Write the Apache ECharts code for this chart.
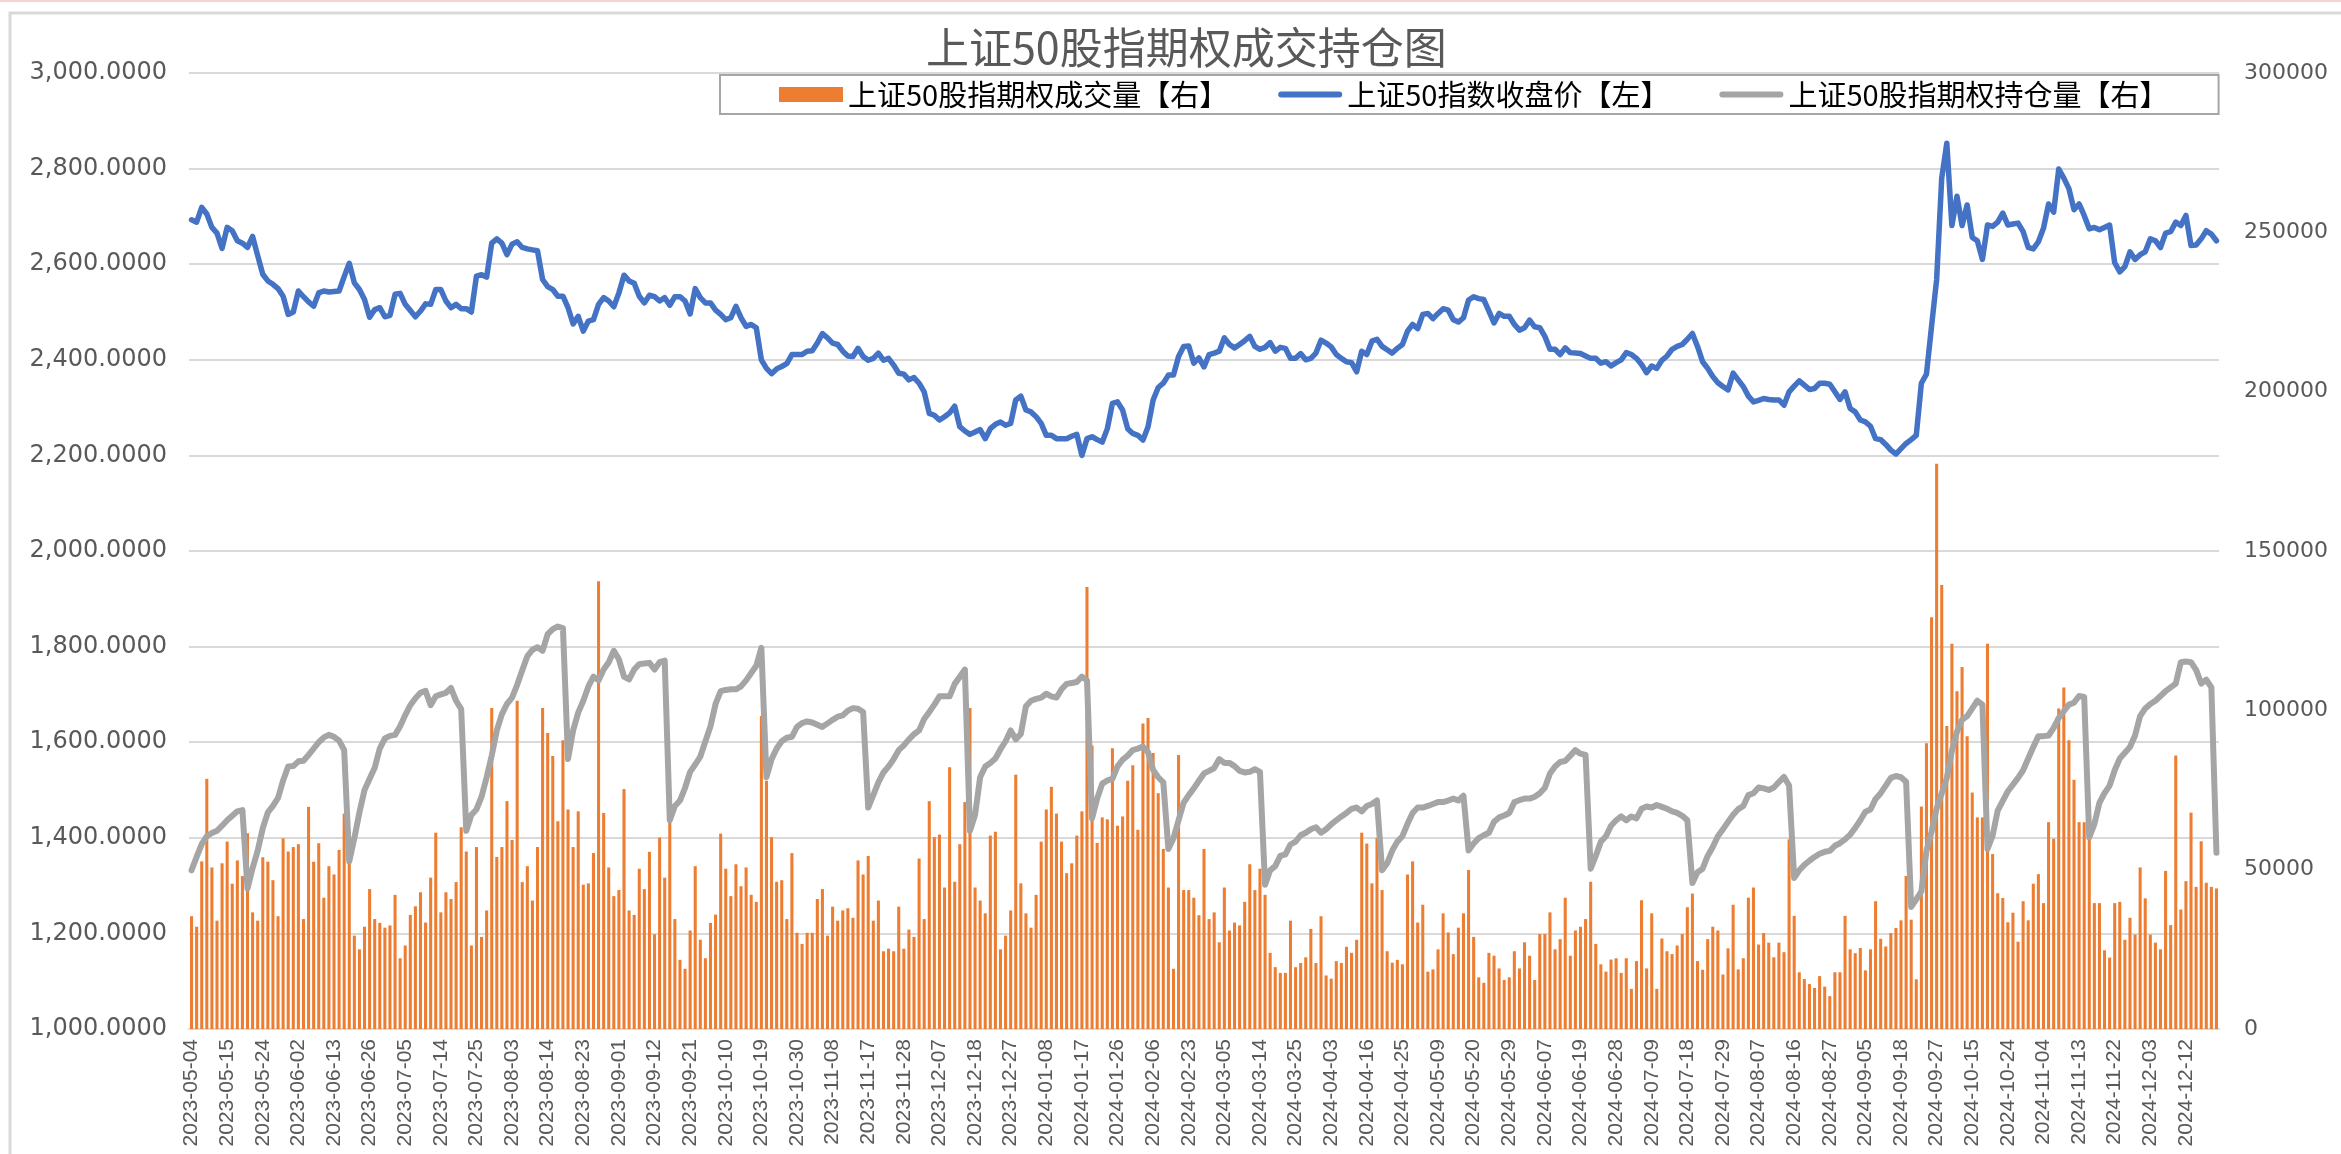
<!DOCTYPE html>
<html>
<head>
<meta charset="utf-8">
<title>上证50股指期权成交持仓图</title>
<script src="https://cdn.jsdelivr.net/npm/echarts@6/dist/echarts.min.js"></script>
<style>
  html, body { margin: 0; padding: 0; background: #fff; }
  #chart { width: 2341px; height: 1154px; }
</style>
</head>
<body>
<div id="chart"></div>
<script>
// 休市日（工作日中不交易的日子）
const holidays = [
  '2023-06-22', '2023-06-23', '2023-09-29', '2023-10-02', '2023-10-03', '2023-10-04', '2023-10-05', '2023-10-06',
  '2024-01-01', '2024-02-09', '2024-02-12', '2024-02-13', '2024-02-14', '2024-02-15', '2024-02-16',
  '2024-04-04', '2024-04-05', '2024-05-01', '2024-05-02', '2024-05-03', '2024-06-10',
  '2024-09-16', '2024-09-17', '2024-10-01', '2024-10-02', '2024-10-03', '2024-10-04', '2024-10-07'
]

// 交易日 2023-05-04 ~ 2024-12-20
function buildDays() {
  const out = []
  const d = new Date(Date.UTC(2023, 4, 4))
  const end = Date.UTC(2024, 11, 20)
  while (d.getTime() <= end) {
    const s = d.toISOString().slice(0, 10)
    const w = d.getUTCDay()
    if (w !== 0 && w !== 6 && !holidays.includes(s)) out.push(s)
    d.setUTCDate(d.getUTCDate() + 1)
  }
  return out
}
const days = buildDays()

// 上证50指数收盘价（左轴）
const closePrice = [
  2693, 2688, 2719, 2705, 2677, 2665, 2633, 2677, 2670, 2649,
  2644, 2635, 2658, 2618, 2579, 2565, 2558, 2549, 2533, 2495,
  2500, 2544, 2532, 2521, 2512, 2540, 2544, 2542, 2543, 2544,
  2574, 2602, 2561, 2547, 2526, 2489, 2505, 2509, 2490, 2493,
  2537, 2539, 2516, 2503, 2490, 2502, 2517, 2516, 2547, 2547,
  2523, 2509, 2516, 2507, 2507, 2500, 2575, 2578, 2573, 2644,
  2653, 2644, 2620, 2642, 2647, 2635, 2632, 2630, 2628, 2568,
  2553, 2547, 2533, 2533, 2509, 2475, 2491, 2460, 2481, 2484,
  2516, 2530, 2523, 2511, 2540, 2577, 2565, 2560, 2533, 2519,
  2535, 2532, 2523, 2530, 2514, 2532, 2532, 2523, 2496, 2549,
  2530, 2519, 2519, 2504, 2495, 2484, 2488, 2512, 2488, 2470,
  2474, 2467, 2400, 2382, 2371, 2381, 2386, 2392, 2411, 2411,
  2411, 2418, 2419, 2435, 2455, 2446, 2435, 2432, 2418, 2408,
  2407, 2424, 2407, 2399, 2403, 2414, 2399, 2403, 2389, 2372,
  2370, 2358, 2363, 2351, 2333, 2288, 2284, 2274, 2281, 2289,
  2303, 2260, 2251, 2244, 2249, 2254, 2235, 2256, 2265, 2270,
  2263, 2267, 2316, 2324, 2295, 2291, 2281, 2267, 2242, 2242,
  2235, 2235, 2235, 2240, 2244, 2200, 2235, 2239, 2233, 2228,
  2256, 2309, 2312, 2295, 2256, 2246, 2242, 2232, 2260, 2316,
  2342, 2351, 2368, 2368, 2407, 2428, 2429, 2393, 2404, 2385,
  2411, 2414, 2418, 2446, 2432, 2425, 2432, 2440, 2449, 2428,
  2422, 2426, 2436, 2418, 2426, 2424, 2403, 2403, 2413, 2400,
  2403, 2414, 2441, 2435, 2427, 2411, 2403, 2396, 2394, 2375,
  2418, 2411, 2439, 2443, 2428, 2421, 2414, 2424, 2432, 2460,
  2474, 2465, 2495, 2497, 2486, 2497, 2507, 2504, 2484, 2479,
  2488, 2525, 2532, 2528, 2526, 2502, 2477, 2497, 2491, 2491,
  2474, 2462, 2467, 2483, 2469, 2467, 2449, 2422, 2422, 2411,
  2425, 2415, 2414, 2413, 2408, 2403, 2403, 2393, 2396, 2387,
  2394, 2400, 2415, 2411, 2403, 2390, 2373, 2387, 2382, 2399,
  2408, 2422, 2428, 2432, 2443, 2455, 2428, 2396, 2382, 2365,
  2352, 2344, 2337, 2372, 2358, 2344, 2324, 2312, 2315, 2319,
  2317, 2316, 2316, 2305, 2333, 2345, 2356, 2347, 2338, 2340,
  2351, 2351, 2349, 2333, 2317, 2333, 2298, 2291, 2274, 2270,
  2261, 2235, 2233, 2223, 2211, 2203, 2214, 2225, 2233, 2242,
  2351, 2370, 2470, 2568, 2780, 2853, 2681, 2742, 2681, 2724,
  2656, 2649, 2610, 2682, 2679, 2688, 2707, 2682, 2684, 2686,
  2668, 2635, 2632, 2647, 2675, 2726, 2709, 2799, 2780, 2758,
  2714, 2726, 2702, 2674, 2677, 2672, 2677, 2682, 2603, 2584,
  2595, 2626, 2610, 2620, 2626, 2653, 2649, 2635, 2665, 2668,
  2688, 2681, 2702, 2639, 2640, 2653, 2670, 2663, 2649
]

// 上证50股指期权成交量（右轴）
const volume = [
  35400, 32100, 52600, 78500, 50700, 34000, 52000, 58800, 45600, 52900,
  48000, 61400, 36600, 34000, 53900, 52500, 46700, 35400, 59800, 55700,
  57100, 58000, 34500, 69700, 52500, 58300, 41200, 51100, 48500, 56200,
  67600, 53100, 29300, 25000, 32100, 43900, 34500, 33300, 31800, 32500,
  42100, 22200, 26200, 35800, 38500, 42900, 33400, 47500, 61600, 36600,
  42900, 40800, 46100, 63300, 55700, 26200, 57100, 28900, 37200, 100700,
  54000, 57100, 71500, 59300, 103000, 46100, 51100, 40300, 57100, 100700,
  92900, 85700, 65200, 90600, 68900, 57100, 68300, 45300, 45700, 55200,
  140500, 67800, 50700, 41700, 43600, 75300, 37200, 35800, 50300, 43900,
  55600, 29700, 60100, 47500, 65500, 34500, 21700, 18900, 30900, 51100,
  28000, 22200, 33300, 35900, 61300, 50300, 41700, 51700, 44800, 50700,
  42100, 39900, 98200, 77900, 60200, 46200, 46700, 34500, 55200, 30200,
  26700, 30200, 30200, 40800, 43900, 29300, 38400, 34000, 37200, 37900,
  34900, 52900, 48500, 54300, 34000, 40300, 24400, 25200, 24400, 38400,
  25200, 31200, 28900, 53500, 34500, 71500, 60200, 61000, 44400, 82100,
  46200, 58000, 71200, 100700, 44400, 40300, 36300, 60700, 61900, 25000,
  29300, 37200, 79800, 45700, 36300, 31800, 42100, 58800, 68900, 76000,
  67600, 58800, 48900, 52000, 60700, 68300, 138700, 89000, 58400, 66400,
  65800, 88100, 63800, 66700, 77900, 82800, 62500, 95900, 97600, 86600,
  74000, 56500, 44400, 18900, 86000, 43600, 43600, 41200, 35700, 56500,
  34500, 36600, 27200, 44400, 30900, 33400, 32500, 39900, 51700, 43600,
  50300, 42100, 23900, 19400, 17600, 17600, 34000, 19400, 20700, 22500,
  31400, 20700, 35400, 16800, 15800, 21300, 20700, 25800, 23900, 28000,
  61600, 58200, 45700, 59900, 43600, 24400, 20800, 21700, 20300, 48500,
  52600, 33400, 39000, 18000, 18700, 25000, 36300, 30300, 23500, 31800,
  36300, 49900, 28900, 16200, 14500, 23900, 23000, 19000, 15400, 16200,
  24400, 19000, 27200, 23000, 15400, 29800, 29800, 36600, 25000, 28200,
  41200, 23000, 30900, 32100, 34500, 46200, 26700, 20300, 18000, 21800,
  22200, 17600, 22200, 12600, 21300, 40400, 19000, 36300, 12600, 28400,
  24400, 23500, 26200, 29800, 38200, 42500, 21300, 18600, 28200, 32100,
  30900, 17100, 25300, 39000, 18700, 22200, 41200, 44400, 26500, 30100,
  27100, 22500, 27100, 24100, 59500, 35500, 17800, 15700, 14100, 12900,
  16600, 13300, 10300, 17800, 17800, 35500, 25000, 23800, 25400, 18400,
  25000, 40100, 28300, 25900, 30100, 31700, 34100, 48000, 34300, 15600,
  69800, 89700, 129200, 177400, 139300, 95100, 120900, 106000, 113600, 91900,
  74200, 66400, 66400, 120900, 54900, 42600, 41100, 33500, 36500, 27400,
  40100, 34100, 45600, 48600, 39500, 64900, 59700, 100600, 107200, 90600,
  78200, 64900, 64900, 60700, 39500, 39500, 24700, 22400, 39500, 39900,
  28000, 34900, 29600, 50700, 41000, 29600, 27100, 25000, 49600, 32600,
  85800, 37500, 46400, 67900, 44600, 58900, 45900, 44600, 44100
]

// 上证50股指期权持仓量（右轴）
const openInterest = [
  49800, 54000, 58000, 60500, 61500, 62200, 63800, 65500, 66900, 68300,
  68700, 44100, 50500, 56000, 63000, 68000, 70000, 72500, 78000, 82400,
  82500, 84000, 84200, 86000, 88000, 90000, 91500, 92300, 91700, 90500,
  87500, 52600, 59900, 68000, 75000, 78500, 82000, 88000, 91200, 92000,
  92300, 95000, 98500, 101600, 103800, 105500, 106100, 101600, 104400, 105000,
  105500, 107000, 103000, 100400, 62200, 67200, 68900, 72900, 79000, 85800,
  93700, 98800, 102000, 104000, 108000, 112600, 117000, 119000, 119800, 118700,
  123900, 125500, 126300, 125800, 84700, 93700, 99300, 103000, 107500, 110600,
  109400, 112800, 115100, 118700, 116000, 110600, 109700, 112800, 114500, 114700,
  114900, 112800, 115100, 115600, 65500, 70000, 71700, 75700, 80700, 83000,
  85500, 90300, 95000, 102000, 106000, 106400, 106600, 106600, 107500, 109400,
  111700, 114000, 119600, 79000, 84700, 88000, 90300, 91400, 91700, 94800,
  96000, 96500, 96200, 95500, 94800, 95900, 97000, 98000, 98400, 99900,
  100700, 100500, 99500, 69500, 73400, 77400, 80500, 82400, 84700, 87500,
  89000, 90900, 92500, 93700, 97300, 99500, 101800, 104400, 104400, 104400,
  108300, 110500, 112800, 62200, 67200, 79000, 82400, 83500, 84900, 87800,
  90300, 93700, 90900, 92600, 101300, 103000, 103600, 104000, 105200, 104400,
  104000, 106600, 108300, 108600, 108900, 110600, 109400, 66100, 72300, 77000,
  78000, 78500, 82400, 84500, 85800, 87500, 88000, 88600, 86900, 81300,
  79000, 77400, 56500, 59900, 65500, 71000, 73400, 75500, 77900, 80200,
  81000, 81900, 84700, 83500, 83500, 82500, 81000, 80500, 80700, 81500,
  80700, 45300, 49800, 51100, 54300, 54800, 57900, 58800, 60800, 61600,
  62700, 63300, 61600, 62700, 64200, 65500, 66700, 67800, 69100, 69500,
  68300, 70000, 70600, 71700, 49800, 52000, 56000, 58800, 60500, 64400,
  67800, 69500, 69500, 70000, 70600, 71200, 71200, 71700, 72300, 71700,
  73200, 56000, 58200, 59900, 60800, 61600, 65000, 66400, 67000, 67800,
  71200, 71800, 72300, 72300, 72900, 74000, 75700, 80200, 82400, 83800,
  84100, 85800, 87500, 86400, 86000, 50300, 54300, 58800, 60500, 63800,
  65500, 66700, 65500, 66700, 66100, 69100, 69800, 69500, 70300, 69700,
  69100, 68300, 67800, 66900, 65500, 45800, 49200, 50300, 54300, 57100,
  60500, 62700, 65000, 67200, 69000, 70000, 73400, 74000, 75800, 75500,
  75000, 75800, 77500, 79100, 76400, 47400, 49800, 51500, 52800, 54000,
  55000, 55600, 55900, 57500, 58300, 59500, 61000, 63100, 65500, 68200,
  68900, 72200, 74000, 76400, 78800, 79400, 79000, 77600, 38300, 40700,
  43200, 55900, 61900, 69200, 74000, 78800, 87300, 93300, 97000, 98200,
  100600, 103000, 101800, 56500, 60700, 68500, 71600, 74600, 76700, 78800,
  81200, 84900, 88500, 91900, 91900, 92100, 94500, 97600, 99700, 101800,
  102400, 104500, 104200, 60100, 64300, 71000, 74000, 76400, 81200, 84900,
  86700, 88500, 92100, 98200, 100600, 102000, 103000, 104500, 106000, 107200,
  108400, 115100, 115300, 115100, 112700, 108400, 109600, 107200, 55300
]

const leftTicks = { min: 1000, max: 3000, step: 200 }
const rightTicks = { min: 0, max: 300000, step: 50000 }

const volName = '上证50股指期权成交量【右】'
const priceName = '上证50指数收盘价【左】'
const oiName = '上证50股指期权持仓量【右】'

const labelColor = '#595959'
const gridColor = '#d9d9d9'
// 图例里的粗线图标
const lineIcon = 'path://M3,0 L61,0 A3,3 0 0 1 61,6 L3,6 A3,3 0 0 1 3,0 Z'

const options = {
  animation: false,
  backgroundColor: '#fff',
  title: {
    text: '上证50股指期权成交持仓图',
    left: 926,
    top: 26,
    padding: 0,
    textStyle: {
      fontFamily: 'Noto Sans CJK SC',
      fontSize: 43,
      fontWeight: 'normal',
      color: labelColor
    }
  },
  legend: {
    data: [
      { name: volName, icon: 'rect' },
      { name: priceName, icon: lineIcon },
      { name: oiName, icon: lineIcon }
    ],
    left: 720,
    top: 75,
    padding: [5, 50, 5, 59],
    borderColor: '#a6a6a6',
    borderWidth: 2,
    itemGap: 50,
    itemWidth: 64,
    itemHeight: 15,
    textStyle: {
      fontFamily: 'Noto Sans CJK SC',
      fontSize: 29,
      color: '#000'
    }
  },
  grid: {
    left: 189,
    right: 122,
    top: 73,
    bottom: 125
  },
  xAxis: {
    type: 'category',
    data: days,
    axisLine: { lineStyle: { color: gridColor, width: 2 } },
    axisTick: { show: false },
    axisLabel: {
      interval: 6,
      rotate: 90,
      margin: 10,
      fontFamily: 'Liberation Sans',
      fontSize: 21,
      color: labelColor
    }
  },
  yAxis: [
    {
      type: 'value',
      position: 'left',
      min: leftTicks.min,
      max: leftTicks.max,
      interval: leftTicks.step,
      axisLine: { show: false },
      axisTick: { show: false },
      splitLine: { lineStyle: { color: gridColor, width: 2 } },
      axisLabel: {
        margin: 22,
        fontFamily: 'DejaVu Sans',
        fontSize: 24,
        color: labelColor,
        formatter: v => v.toLocaleString('en-US', { minimumFractionDigits: 4, maximumFractionDigits: 4 })
      }
    },
    {
      type: 'value',
      position: 'right',
      min: rightTicks.min,
      max: rightTicks.max,
      interval: rightTicks.step,
      axisLine: { show: false },
      axisTick: { show: false },
      splitLine: { show: false },
      axisLabel: {
        margin: 25,
        fontFamily: 'DejaVu Sans',
        fontSize: 22,
        color: labelColor,
        formatter: v => String(v)
      }
    }
  ],
  graphic: [
    {
      // 截图顶部的淡红线
      type: 'line',
      shape: { x1: 0, y1: 1, x2: 2341, y2: 1 },
      style: { stroke: '#f6d3d3', lineWidth: 2 },
      silent: true
    },
    {
      // 图表区外框（上、左）
      type: 'polyline',
      shape: { points: [[10, 1154], [10, 13], [2341, 13]] },
      style: { stroke: gridColor, lineWidth: 3, fill: null },
      silent: true
    }
  ],
  series: [
    {
      name: volName,
      type: 'bar',
      yAxisIndex: 1,
      data: volume,
      barCategoryGap: '40%',
      itemStyle: { color: '#ED7D31' }
    },
    {
      name: oiName,
      type: 'line',
      yAxisIndex: 1,
      data: openInterest,
      symbol: 'none',
      lineStyle: { color: '#A5A5A5', width: 6, cap: 'round', join: 'round' },
      itemStyle: { color: '#A5A5A5' }
    },
    {
      name: priceName,
      type: 'line',
      yAxisIndex: 0,
      data: closePrice,
      symbol: 'none',
      lineStyle: { color: '#4472C4', width: 5.5, cap: 'round', join: 'round' },
      itemStyle: { color: '#4472C4' }
    }
  ]
}

const chart = echarts.init(document.getElementById('chart'))
chart.setOption(options)
window.addEventListener('resize', function () {
  chart && chart.resize()
})
</script>
</body>
</html>
